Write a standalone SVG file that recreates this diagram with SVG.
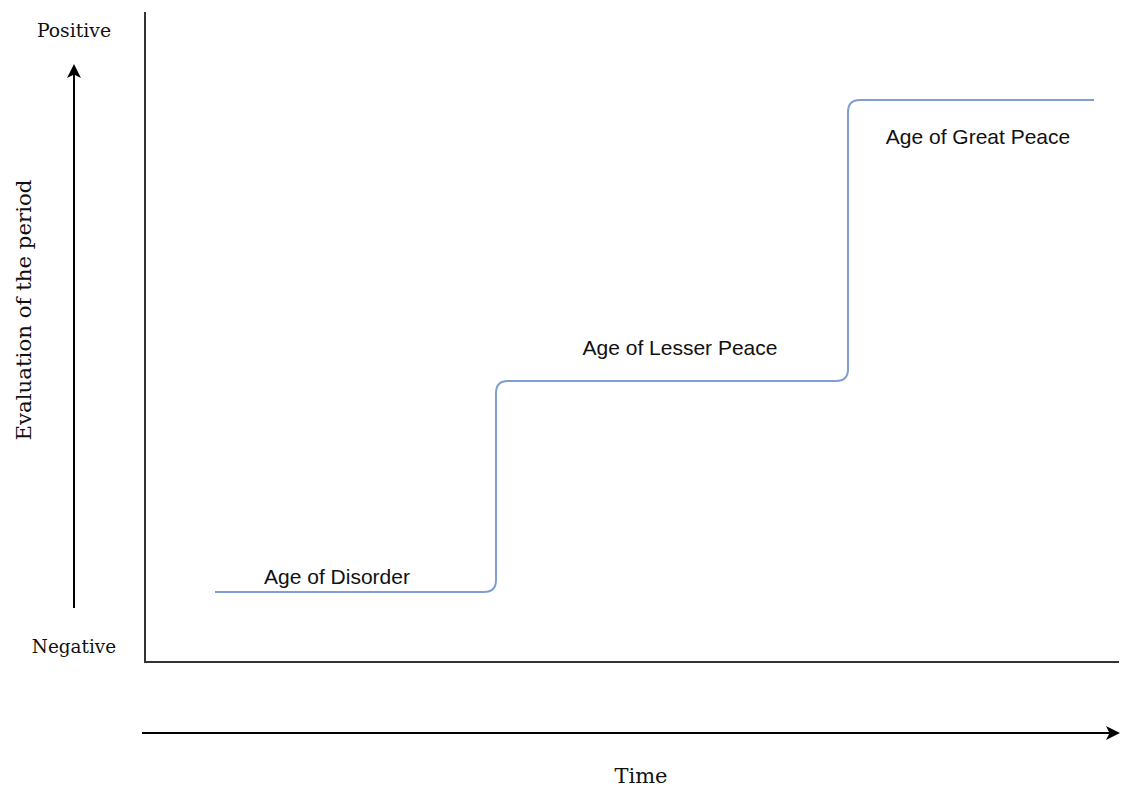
<svg xmlns="http://www.w3.org/2000/svg" width="1121" height="787" viewBox="0 0 1121 787">
<defs>
<style>
.ax{stroke:#333;stroke-width:2;fill:none}
.arr{stroke:#000;stroke-width:2;fill:none}
.step{stroke:#7f9fd4;stroke-width:2;fill:none}
.serif{font-family:"DejaVu Serif","Liberation Serif",serif;fill:#111}
.lbl{font-family:"Liberation Sans",Arial,sans-serif;font-size:21px;fill:#111;text-anchor:middle}
</style>
<marker id="ah" markerWidth="14" markerHeight="14" refX="12" refY="7" orient="auto" markerUnits="userSpaceOnUse">
<path d="M0,0 L14,7 L0,14 L3.5,7 Z" fill="#000"/>
</marker>
</defs>
<rect width="1121" height="787" fill="#fff"/>
<g id="axes">
<path class="ax" d="M145,12 V662 H1119"/>
</g>
<g id="connectors">
<line class="arr" x1="74" y1="608" x2="74" y2="66" marker-end="url(#ah)"/>
<line class="arr" x1="142" y1="733" x2="1118" y2="733" marker-end="url(#ah)"/>
<path id="steps" class="step" d="M215,592 H484 Q496,592 496,580 V393 Q496,381 508,381 H836 Q848,381 848,369 V112 Q848,100 860,100 H1094"/>
</g>
<g id="axis-labels">
<text class="serif" x="74" y="37" font-size="18.8" text-anchor="middle">Positive</text>
<text class="serif" x="74" y="653" font-size="18.4" text-anchor="middle">Negative</text>
<text class="serif" x="641" y="783" font-size="21" text-anchor="middle">Time</text>
<text class="serif" transform="translate(31,310) rotate(-90)" font-size="21.3" text-anchor="middle">Evaluation of the period</text>
</g>
<g id="disorder"><text class="lbl" x="337" y="584">Age of Disorder</text></g>
<g id="lesser"><text class="lbl" x="680" y="355">Age of Lesser Peace</text></g>
<g id="great"><text class="lbl" x="978" y="144">Age of Great Peace</text></g>
</svg>
